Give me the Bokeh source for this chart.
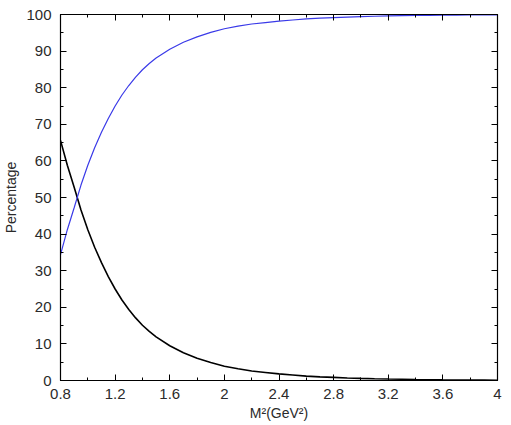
from bokeh.plotting import figure
from bokeh.models import LinearAxis, FixedTicker, CustomJSTickFormatter, Range1d
from bokeh.embed import file_html
from bokeh.resources import INLINE

# M^2 (GeV^2)
m2 = [0.8, 0.85, 0.9, 0.95, 1.0, 1.05, 1.1, 1.15, 1.2, 1.25, 1.3, 1.35, 1.4, 1.45,
      1.5, 1.6, 1.7, 1.8, 1.9, 2.0, 2.1, 2.2, 2.3, 2.4, 2.5, 2.6, 2.7, 2.8, 2.9,
      3.0, 3.1, 3.2, 3.3, 3.4, 3.5, 3.6, 3.7, 3.8, 3.9, 4.0]
# black curve (decreasing), percentage
black_pct = [65.6, 58.8, 52.8, 46.6, 41.2, 36.4, 32.2, 28.4, 25.0, 22.0, 19.4, 17.1,
             15.1, 13.4, 11.9, 9.5, 7.6, 6.1, 4.9, 3.9, 3.2, 2.6, 2.2, 1.8, 1.5,
             1.2, 1.0, 0.85, 0.7, 0.58, 0.48, 0.40, 0.33, 0.27, 0.22, 0.18, 0.15,
             0.12, 0.10, 0.08]
# blue curve (increasing), percentage
blue_pct = [34.4, 41.2, 47.2, 53.4, 58.8, 63.6, 67.8, 71.6, 75.0, 78.0, 80.6, 82.9,
            84.9, 86.6, 88.1, 90.5, 92.4, 93.9, 95.1, 96.1, 96.8, 97.4, 97.8, 98.2,
            98.5, 98.8, 99.0, 99.15, 99.3, 99.42, 99.52, 99.60, 99.67, 99.73, 99.78,
            99.82, 99.85, 99.88, 99.90, 99.92]

x_ticks = [0.8, 1.2, 1.6, 2.0, 2.4, 2.8, 3.2, 3.6, 4.0]
x_minor = [0.8, 1.0, 1.2, 1.4, 1.6, 1.8, 2.0, 2.2, 2.4, 2.6, 2.8, 3.0, 3.2, 3.4, 3.6, 3.8, 4.0]
y_ticks = [0, 10, 20, 30, 40, 50, 60, 70, 80, 90, 100]
y_minor = list(range(0, 101, 5))

FONT = "Liberation Sans"

p = figure(width=511, height=425, output_backend="svg", toolbar_location=None,
           x_range=Range1d(0.8, 4.0), y_range=Range1d(0, 100),
           min_border_left=58, min_border_right=14, min_border_top=14,
           min_border_bottom=45, x_axis_label="M²(GeV²)", y_axis_label="Percentage")
p.grid.visible = False
p.outline_line_color = "black"
p.outline_line_width = 1.2
p.background_fill_color = "white"
p.border_fill_color = "white"

p.line(m2, black_pct, line_color="black", line_width=1.6)
p.line(m2, blue_pct, line_color="#3a3ae8", line_width=1.2)

def style(ax, ticks, minor, show_labels):
    ax.ticker = FixedTicker(ticks=ticks, minor_ticks=minor)
    ax.major_tick_in = 6
    ax.major_tick_out = 0
    ax.minor_tick_in = 3
    ax.minor_tick_out = 0
    ax.axis_line_color = "black"
    ax.major_tick_line_color = "black"
    ax.minor_tick_line_color = "black"
    ax.major_label_text_font = FONT
    ax.major_label_text_font_size = "15px"
    ax.major_label_text_color = "#2a2a2a"
    ax.axis_label_text_font = FONT
    ax.axis_label_text_font_size = "14px"
    ax.axis_label_text_font_style = "normal"
    ax.axis_label_text_color = "#2a2a2a"
    if not show_labels:
        ax.formatter = CustomJSTickFormatter(code="return ''")

xa = p.xaxis[0]
ya = p.yaxis[0]
style(xa, x_ticks, x_minor, True)
style(ya, y_ticks, y_minor, True)
xa.formatter = CustomJSTickFormatter(code="return tick.toString()")
xa.major_label_standoff = 8
xa.axis_label_standoff = 3
ya.major_label_standoff = 9
ya.axis_label_standoff = 4

top = LinearAxis()
style(top, x_ticks, x_minor, False)
p.add_layout(top, "above")
right = LinearAxis()
style(right, y_ticks, y_minor, False)
p.add_layout(right, "right")
top.major_label_standoff = 0
right.major_label_standoff = 0

open("out.html", "w").write(file_html(p, INLINE))
